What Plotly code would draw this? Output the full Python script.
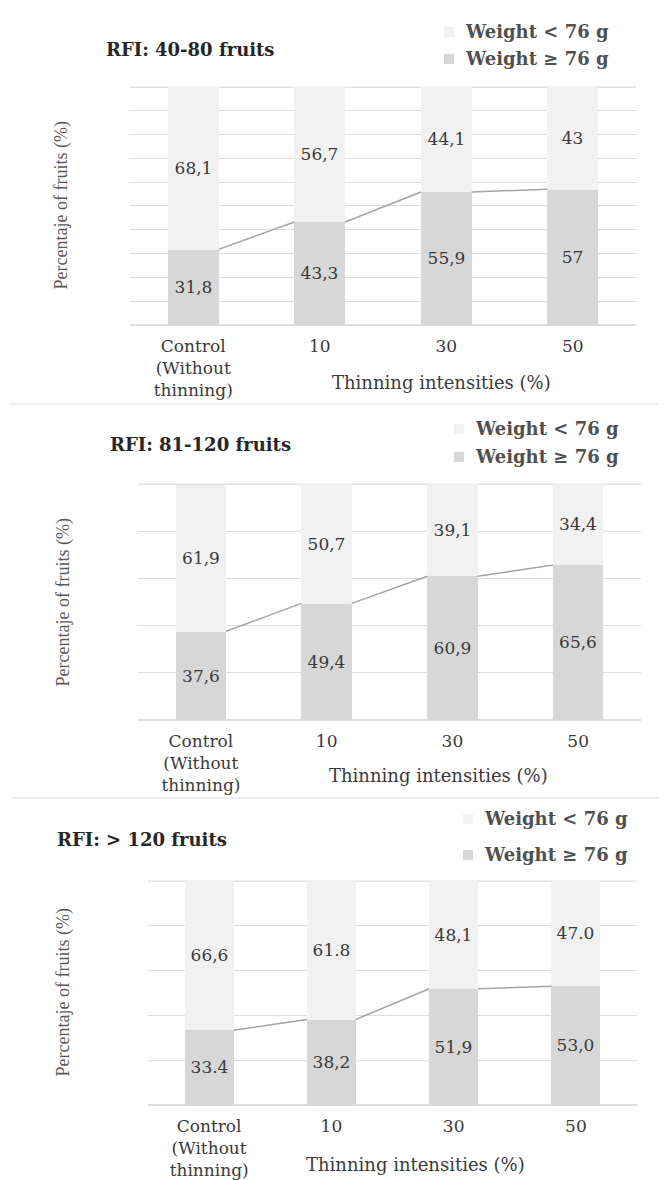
import plotly.graph_objects as go

W, H = 667, 1180
OFF = 8  # the page body has an 8px margin; the figure is sized to fill the rest
FW, FH = W - OFF, H - OFF

categories = ["Control<br>(Without<br>thinning)", "10", "30", "50"]
panel_titles = ["RFI: 40-80 fruits", "RFI: 81-120 fruits", "RFI: > 120 fruits"]
legend_names = ["Weight < 76 g", "Weight \u2265 76 g"]
x_title = "Thinning intensities (%)"
y_title = "Percentaje of fruits (%)"

# Weight >= 76 g (dark, bottom segment)
heavy_1 = [31.8, 43.3, 55.9, 57.0]
heavy_2 = [37.6, 49.4, 60.9, 65.6]
heavy_3 = [33.4, 38.2, 51.9, 53.0]
# Weight < 76 g (light, top segment)
light_1 = [68.1, 56.7, 44.1, 43.0]
light_2 = [61.9, 50.7, 39.1, 34.4]
light_3 = [66.6, 61.8, 48.1, 47.0]
# Printed labels (as in the original figure)
heavy_lbl_1 = ["31,8", "43,3", "55,9", "57"]
heavy_lbl_2 = ["37,6", "49,4", "60,9", "65,6"]
heavy_lbl_3 = ["33.4", "38,2", "51,9", "53,0"]
light_lbl_1 = ["68,1", "56,7", "44,1", "43"]
light_lbl_2 = ["61,9", "50,7", "39,1", "34,4"]
light_lbl_3 = ["66,6", "61.8", "48,1", "47.0"]
grid_step = [10, 20, 20]

LIGHT = "#f1f1f1"
DARK = "#d7d7d7"
TXT = "#3a3a3a"
GRID = "#dedede"
SERIF = "DejaVu Serif"
BAR_W = 0.4

def px_x(p):
    return (p - OFF) / FW

def px_y(p):
    return 1 - (p - OFF) / FH

# pixel layout of each panel in the page: (left, right, top, bottom)
boxes = [(130, 636, 87, 326), (138, 641, 485, 722), (148, 637, 883, 1108)]
title_pos = [(104, 50), (108, 446), (55, 842)]
legend_pos = [(463, 32, 59), (473, 430, 458), (482, 821, 857)]
xtitle_pos = [(441, 383), (438, 777), (415, 1167)]
ytitle_pos = [(61, 206), (63, 604), (63, 995)]

heavy = [heavy_1, heavy_2, heavy_3]
light = [light_1, light_2, light_3]
heavy_lbl = [heavy_lbl_1, heavy_lbl_2, heavy_lbl_3]
light_lbl = [light_lbl_1, light_lbl_2, light_lbl_3]

fig = go.Figure()
annotations = []
shapes = []
xs = list(range(len(categories)))

for i in range(3):
    sfx = "" if i == 0 else str(i + 1)
    xa, ya = "x" + sfx, "y" + sfx
    fig.add_trace(go.Bar(
        x=xs, y=heavy[i], width=BAR_W, marker=dict(color=DARK, line=dict(width=0)),
        text=heavy_lbl[i], textposition="inside", insidetextanchor="middle",
        textangle=0, constraintext="none",
        insidetextfont=dict(family=SERIF, size=17, color=TXT),
        name=legend_names[1], showlegend=False, xaxis=xa, yaxis=ya, hoverinfo="skip"))
    fig.add_trace(go.Bar(
        x=xs, y=light[i], width=BAR_W, marker=dict(color=LIGHT, line=dict(width=0)),
        text=light_lbl[i], textposition="inside", insidetextanchor="middle",
        textangle=0, constraintext="none",
        insidetextfont=dict(family=SERIF, size=17, color=TXT),
        name=legend_names[0], showlegend=False, xaxis=xa, yaxis=ya, hoverinfo="skip"))
    # series lines connecting tops of the heavy segments
    lx, ly = [], []
    for k in range(len(xs) - 1):
        lx += [xs[k] + BAR_W / 2, xs[k + 1] - BAR_W / 2, None]
        ly += [heavy[i][k], heavy[i][k + 1], None]
    fig.add_trace(go.Scatter(x=lx, y=ly, mode="lines", line=dict(color="#a4a4a4", width=1.5),
                             showlegend=False, hoverinfo="skip", xaxis=xa, yaxis=ya))

    L, R, T, B = boxes[i]
    fig.layout["xaxis" + sfx] = dict(
        domain=[px_x(L), px_x(R)], range=[-0.5, 3.5], anchor=ya,
        tickvals=xs, ticktext=categories, showgrid=False, zeroline=False,
        showline=False, ticks="outside", ticklen=5, tickcolor="rgba(0,0,0,0)",
        tickfont=dict(family=SERIF, size=17, color=TXT), fixedrange=True)
    fig.layout["yaxis" + sfx] = dict(
        domain=[px_y(B), px_y(T)], range=[0, 100], anchor=xa,
        dtick=grid_step[i], showgrid=True, gridcolor=GRID, gridwidth=1,
        zeroline=True, zerolinecolor=GRID, zerolinewidth=1.5,
        showticklabels=False, showline=False, fixedrange=True)
    # darker top rule
    shapes.append(dict(type="line", xref=xa + " domain", yref=ya, x0=0, x1=1, y0=100, y1=100,
                       line=dict(color="#c4c4c4", width=1.5), layer="below"))

    tx, ty = title_pos[i]
    annotations.append(dict(text="<b>" + panel_titles[i] + "</b>", xref="paper", yref="paper",
                            x=px_x(tx), y=px_y(ty), xanchor="left", yanchor="middle",
                            showarrow=False, font=dict(family=SERIF, size=18, color="#262626")))
    lx0, ly1, ly2 = legend_pos[i]
    for name, col, yy in [(legend_names[0], LIGHT, ly1), (legend_names[1], DARK, ly2)]:
        annotations.append(dict(text="<b>" + name + "</b>", xref="paper", yref="paper",
                                x=px_x(lx0), y=px_y(yy), xanchor="left", yanchor="middle",
                                showarrow=False, font=dict(family=SERIF, size=18, color="#505050")))
        shapes.append(dict(type="rect", xref="paper", yref="paper",
                           x0=px_x(lx0 - 19), x1=px_x(lx0 - 9), y0=px_y(yy + 5), y1=px_y(yy - 5),
                           fillcolor=col, line=dict(width=0)))
    xx, xy = xtitle_pos[i]
    annotations.append(dict(text=x_title, xref="paper", yref="paper", x=px_x(xx), y=px_y(xy),
                            xanchor="center", yanchor="middle", showarrow=False,
                            font=dict(family=SERIF, size=18, color=TXT)))
    yx, yy = ytitle_pos[i]
    annotations.append(dict(text=y_title, xref="paper", yref="paper", x=px_x(yx), y=px_y(yy),
                            xanchor="center", yanchor="middle", showarrow=False, textangle=-90,
                            font=dict(family="Liberation Serif", size=18, color="#595959")))

# separators between panels
for sy in (405, 800):
    shapes.append(dict(type="line", xref="paper", yref="paper", x0=px_x(11), x1=1,
                       y0=px_y(sy), y1=px_y(sy), line=dict(color="#ececec", width=2)))

fig.update_layout(width=FW, height=FH, margin=dict(l=0, r=0, t=0, b=0),
                  paper_bgcolor="white", plot_bgcolor="white", barmode="stack",
                  bargap=0, showlegend=False, annotations=annotations, shapes=shapes)

fig.write_html("out.html")
